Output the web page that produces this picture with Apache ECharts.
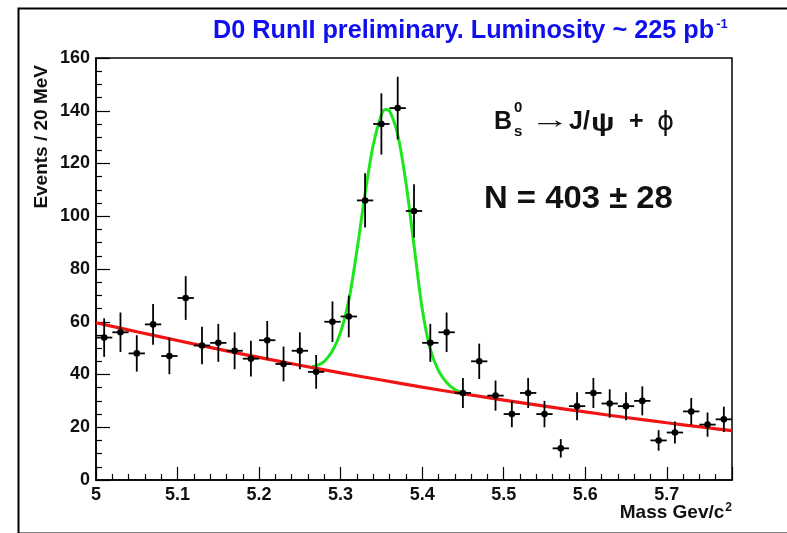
<!DOCTYPE html>
<html><head><meta charset="utf-8">
<script src="https://cdn.jsdelivr.net/npm/echarts@6/dist/echarts.min.js"></script>
<style>html,body{margin:0;padding:0;background:#fff}#c{width:787px;height:533px}</style>
</head><body><div id="c"></div>
<script>
// ---- data ----
const massBins = [5.01,5.03,5.05,5.07,5.09,5.11,5.13,5.15,5.17,5.19,5.21,5.23,5.25,5.27,5.29,5.31,5.33,5.35,5.37,5.39,5.41,5.43,5.45,5.47,5.49,5.51,5.53,5.55,5.57,5.59,5.61,5.63,5.65,5.67,5.69,5.71,5.73,5.75,5.77];
const events = [54,56,48,59,47,69,51,52,49,46,53,44,49,41,60,62,106,135,141,102,52,56,33,45,32,25,33,25,12,28,33,29,28,30,15,18,26,21,23];
const eventErrors = [7.3,7.5,6.9,7.7,6.9,8.3,7.1,7.2,7.0,6.8,7.3,6.6,7.0,6.4,7.7,7.9,10.3,11.6,11.9,10.1,7.2,7.5,5.7,6.7,5.7,5.0,5.7,5.0,3.5,5.3,5.7,5.4,5.3,5.5,3.9,4.2,5.1,4.6,4.8];
const binHalfWidth = 0.01;
const bgMass = [5.00,5.05,5.10,5.15,5.20,5.25,5.30,5.35,5.40,5.45,5.50,5.55,5.60,5.65,5.70,5.75,5.78];
const bgFit  = [59.6,56.2,52.9,49.6,46.5,43.5,40.6,37.9,35.2,32.7,30.3,28.0,25.8,23.7,21.7,19.8,18.7];
const sigMass = [5.265,5.27,5.28,5.29,5.30,5.31,5.32,5.33,5.34,5.35,5.355,5.36,5.37,5.38,5.39,5.40,5.41,5.42,5.43,5.44,5.45,5.455];
const sigFit  = [43.0,43.3,45.0,49.0,56.0,68.0,87.0,108.5,127.0,138.5,140.5,140.0,131.0,113.0,89.0,65.0,49.5,41.5,37.0,34.3,32.9,32.6];
const xTicks = [5,5.1,5.2,5.3,5.4,5.5,5.6,5.7];
const yTicks = [0,20,40,60,80,100,120,140,160];
const titleText = 'D0 RunII preliminary. Luminosity ~ 225 pb';
const xTitle = 'Mass Gev/c';
const yTitle = 'Events / 20 MeV';

const FONT = '"Liberation Sans", Arial, Helvetica, sans-serif';
const SYM = '"DejaVu Sans", "Liberation Sans", sans-serif';
const chart = echarts.init(document.getElementById('c'), null, {renderer: 'canvas'});

const pointData = massBins.map((m, i) => [m, events[i], eventErrors[i]]);

const option = {
  backgroundColor: '#fff',
  animation: false,
  grid: {left: 96, top: 58, right: 55, bottom: 53, show: true, borderColor: '#000', borderWidth: 1.5, backgroundColor: 'transparent'},
  xAxis: {
    type: 'value', min: xTicks[0], max: 5.78, interval: 0.1,
    axisLine: {lineStyle: {color: '#000', width: 1.5}},
    axisTick: {inside: true, length: 13, lineStyle: {color: '#000', width: 1.2}},
    minorTick: {show: true, splitNumber: 5, length: 6, lineStyle: {color: '#000', width: 1.2}},
    splitLine: {show: false},
    axisLabel: {
      margin: 6, color: '#111', fontFamily: FONT, fontSize: 18, fontWeight: 'bold',
      formatter: v => { const r = Math.round(v * 100) / 100; return xTicks.indexOf(r) >= 0 ? String(r) : ''; }
    }
  },
  yAxis: {
    type: 'value', min: yTicks[0], max: yTicks[yTicks.length - 1], interval: 20,
    axisLine: {lineStyle: {color: '#000', width: 1.5}},
    axisTick: {inside: true, length: 14, lineStyle: {color: '#000', width: 1.2}},
    minorTick: {show: true, splitNumber: 4, length: 6, lineStyle: {color: '#000', width: 1.2}},
    splitLine: {show: false},
    axisLabel: {
      margin: 6, color: '#111', fontFamily: FONT, fontSize: 18, fontWeight: 'bold',
      formatter: v => (yTicks.indexOf(v) >= 0 ? String(v) : '')
    }
  },
  series: [
    {
      type: 'line', name: 'signal+bg', data: sigMass.map((m, i) => [m, sigFit[i]]),
      smooth: 0.3, showSymbol: false, z: 2,
      lineStyle: {color: '#1de61d', width: 3}
    },
    {
      type: 'line', name: 'bg', data: bgMass.map((m, i) => [m, bgFit[i]]),
      smooth: 0.3, showSymbol: false, z: 3,
      lineStyle: {color: '#f01414', width: 3.2}
    },
    {
      type: 'custom', name: 'data', data: pointData, z: 5,
      renderItem: (params, api) => {
        const x = api.value(0), y = api.value(1), e = api.value(2);
        const c = api.coord([x, y]);
        const top = api.coord([x, y + e]);
        const bot = api.coord([x, y - e]);
        const l = api.coord([x - binHalfWidth, y]);
        const r = api.coord([x + binHalfWidth, y]);
        const ls = {stroke: '#000', lineWidth: 1.8};
        return {
          type: 'group',
          children: [
            {type: 'line', shape: {x1: top[0], y1: top[1], x2: bot[0], y2: bot[1]}, style: ls},
            {type: 'line', shape: {x1: l[0], y1: l[1], x2: r[0], y2: r[1]}, style: ls},
            {type: 'circle', shape: {cx: c[0], cy: c[1], r: 3.3}, style: {fill: '#000'}}
          ]
        };
      }
    }
  ],
  graphic: [
    {type: 'rect', left: 16, top: 6, shape: {width: 800, height: 525}, style: {fill: 'none', stroke: '#000', lineWidth: 2}, z: 0, silent: true},
    {type: 'text', x: 213, y: 31, scaleX: 1.01, style: {
      text: '{m|' + titleText + '}{s|-1}', fill: '#1010ee', verticalAlign: 'middle',
      rich: {m: {fontFamily: FONT, fontSize: 25, fontWeight: 'bold', fill: '#1010ee'},
             s: {fontFamily: FONT, fontSize: 13, fontWeight: 'bold', fill: '#1010ee', padding: [0, 0, 14, 2]}}
    }},
    {type: 'text', x: 42, y: 65, rotation: Math.PI / 2, style: {
      text: yTitle, fill: '#111', font: 'bold 19px ' + FONT, align: 'right', verticalAlign: 'middle'
    }},
    {type: 'text', x: 732, y: 513, style: {
      text: '{m|' + xTitle + '}{s|2}', fill: '#111', align: 'right', verticalAlign: 'middle',
      rich: {m: {fontFamily: FONT, fontSize: 19, fontWeight: 'bold', fill: '#111'},
             s: {fontFamily: FONT, fontSize: 12, fontWeight: 'bold', fill: '#111', padding: [0, 0, 11, 1]}}
    }},
    {type: 'text', x: 494, y: 122, style: {text: 'B', fill: '#111', font: 'bold 25px ' + FONT, verticalAlign: 'middle'}},
    {type: 'text', x: 514, y: 108, style: {text: '0', fill: '#111', font: 'bold 15px ' + FONT, verticalAlign: 'middle'}},
    {type: 'text', x: 514, y: 132, style: {text: 's', fill: '#111', font: 'bold 15px ' + FONT, verticalAlign: 'middle'}},
    {type: 'text', x: 530, y: 121, scaleX: 1.6, style: {text: '\u2192', fill: '#111', font: 'bold 25px ' + FONT, verticalAlign: 'middle'}},
    {type: 'text', x: 569, y: 122, style: {text: 'J/', fill: '#111', font: 'bold 25px ' + FONT, verticalAlign: 'middle'}},
    {type: 'text', x: 591, y: 124, scaleX: 1.2, style: {text: '\u03c8', fill: '#111', font: 'bold 26px ' + FONT, verticalAlign: 'middle'}},
    {type: 'text', x: 629, y: 122, style: {text: '+', fill: '#111', font: 'bold 25px ' + FONT, verticalAlign: 'middle'}},
    {type: 'text', x: 657, y: 123, style: {text: '\u03d5', fill: '#111', font: '26px ' + SYM, verticalAlign: 'middle'}},
    {type: 'text', x: 484, y: 199, scaleX: 1.06, style: {text: 'N = 403 \u00b1 28', fill: '#111', font: 'bold 31px ' + FONT, verticalAlign: 'middle'}}
  ]
};
chart.setOption(option);
</script>
</body></html>
